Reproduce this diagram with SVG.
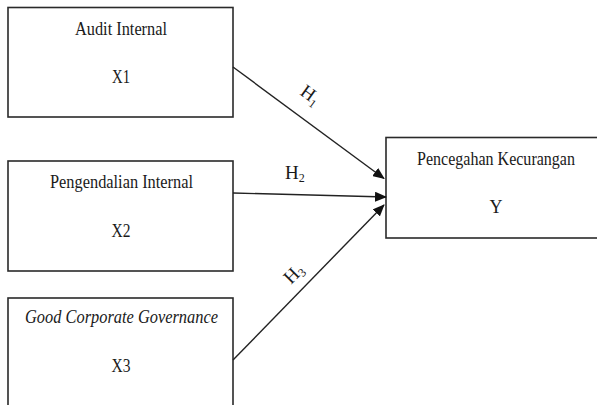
<svg xmlns="http://www.w3.org/2000/svg" width="597" height="405" viewBox="0 0 597 405">
<style>
.box{fill:#fff;stroke:#2a2a2a;stroke-width:1.6}
.t{font-family:"Liberation Serif","Times New Roman",serif;font-size:18px;fill:#1a1a1a;text-anchor:middle}
.h{font-family:"Liberation Serif","Times New Roman",serif;font-size:19px;fill:#1a1a1a}
.c{stroke:#222;stroke-width:1.4;fill:none;marker-end:url(#ah)}
</style>
<defs>
<marker id="ah" markerWidth="12" markerHeight="10" refX="11" refY="5" orient="auto" markerUnits="userSpaceOnUse">
<path d="M0,0 L12,5 L0,10 Z" fill="#111"/>
</marker>
</defs>
<rect width="597" height="405" fill="#fff"/>
<g id="x1">
<rect class="box" x="8" y="7.5" width="225" height="109.5"/>
<text class="t" x="121" y="35" textLength="92" lengthAdjust="spacingAndGlyphs">Audit Internal</text>
<text class="t" x="121" y="83" textLength="18" lengthAdjust="spacingAndGlyphs">X1</text>
</g>
<g id="x2">
<rect class="box" x="8" y="161" width="225" height="110"/>
<text class="t" x="121.5" y="188" textLength="143" lengthAdjust="spacingAndGlyphs">Pengendalian Internal</text>
<text class="t" x="121" y="237" textLength="19" lengthAdjust="spacingAndGlyphs">X2</text>
</g>
<g id="x3">
<rect class="box" x="8" y="298" width="225" height="120"/>
<text class="t" x="121.5" y="323" font-style="italic" textLength="193" lengthAdjust="spacingAndGlyphs">Good Corporate Governance</text>
<text class="t" x="121" y="372" textLength="19" lengthAdjust="spacingAndGlyphs">X3</text>
</g>
<g id="y">
<rect class="box" x="386" y="137.5" width="230" height="100.5"/>
<text class="t" x="496" y="165" textLength="158" lengthAdjust="spacingAndGlyphs">Pencegahan Kecurangan</text>
<text class="t" x="496" y="213" textLength="13" lengthAdjust="spacingAndGlyphs">Y</text>
</g>
<g id="connectors">
<line class="c" x1="233" y1="67" x2="384" y2="178.5"/>
<line class="c" x1="233" y1="193" x2="386" y2="197"/>
<line class="c" x1="233" y1="360" x2="384" y2="205"/>
<text class="h" transform="translate(299,94) rotate(36)">H<tspan font-size="12" dy="4">1</tspan></text>
<text class="h" x="285" y="179">H<tspan font-size="12" dy="3">2</tspan></text>
<text class="h" transform="translate(291,285) rotate(-45)">H<tspan font-size="12" dy="3">3</tspan></text>
</g>
</svg>
